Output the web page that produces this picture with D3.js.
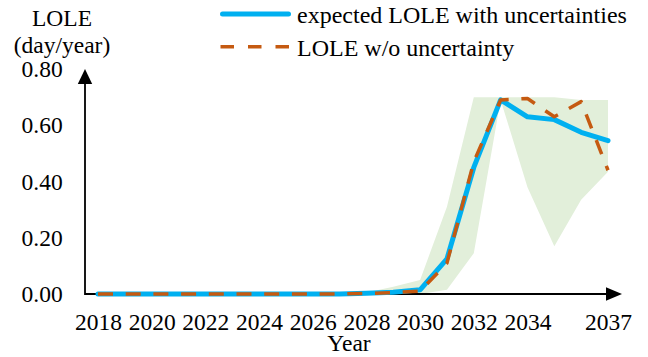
<!DOCTYPE html>
<html>
<head>
<meta charset="utf-8">
<script src="https://cdn.jsdelivr.net/npm/d3@7"></script>
<style>
  html, body { margin: 0; padding: 0; background: #fff; }
  svg { display: block; }
  svg text { font-family: 'Liberation Serif', 'Times New Roman', serif !important; fill: #000; }
</style>
</head>
<body>
<svg id="chart" width="648" height="357"></svg>
<script>
// Study years
const years = d3.range(2018, 2038);

// Expected LOLE with uncertainties (day/year)
const expectedLOLE = [0, 0, 0, 0, 0, 0, 0, 0, 0, 0,
                      0.003, 0.006, 0.015, 0.125, 0.45, 0.69, 0.63, 0.62, 0.575, 0.545];

// LOLE without uncertainty (day/year)
const nominalLOLE = [0, 0, 0, 0, 0, 0, 0, 0, 0, 0,
                     0.002, 0.005, 0.01, 0.11, 0.47, 0.69, 0.695, 0.63, 0.684, 0.44];

// Uncertainty range bounds (day/year)
const rangeUpper = [0, 0, 0, 0, 0, 0, 0, 0, 0, 0,
                    0.005, 0.026, 0.05, 0.31, 0.70, 0.70, 0.70, 0.70, 0.69, 0.69];
const rangeLower = [0, 0, 0, 0, 0, 0, 0, 0, 0, 0,
                    0, 0, 0, 0.015, 0.145, 0.69, 0.38, 0.17, 0.335, 0.435];

// Axis tick labels
const xTickYears = [2018, 2020, 2022, 2024, 2026, 2028, 2030, 2032, 2034, 2037];
const yTickValues = [0, 0.2, 0.4, 0.6, 0.8];

// Legend entries
const legendLabels = ["expected LOLE with uncertainties", "LOLE w/o uncertainty"];

const SERIF = "'Liberation Serif', 'Times New Roman', serif";
const FONT = 23.5;

const svg = d3.select("#chart");

const x = d3.scaleLinear().domain([2018, 2037]).range([98, 608]);
const y = d3.scaleLinear().domain([0, 0.8]).range([294, 69]);
const axisX = 85;

const rows = years.map((yr, i) => ({
  year: yr, expected: expectedLOLE[i], nominal: nominalLOLE[i],
  upper: rangeUpper[i], lower: rangeLower[i]
}));

// Uncertainty band
svg.append("path")
  .datum(rows)
  .attr("fill", "#E2EFDA")
  .attr("d", d3.area()
    .x(d => x(d.year))
    .y0(d => y(d.lower))
    .y1(d => y(d.upper)));

// Axis lines with arrow heads
const axisG = svg.append("g");
axisG.append("path")
  .attr("d", `M${axisX},${y(0.8) + 10}V${y(0)}H${612}`)
  .attr("fill", "none").attr("stroke", "#000").attr("stroke-width", 1.8);
axisG.append("path")
  .attr("d", `M${axisX},${y(0.8)} L${axisX - 7.2},${y(0.8) + 15} L${axisX + 7.2},${y(0.8) + 15} Z`)
  .attr("fill", "#000");
axisG.append("path")
  .attr("d", `M622,${y(0)} L606,${y(0) - 6.8} L606,${y(0) + 6.8} Z`)
  .attr("fill", "#000");

// Expected LOLE line
svg.append("path")
  .datum(rows)
  .attr("fill", "none")
  .attr("stroke", "#00B0F0")
  .attr("stroke-width", 5)
  .attr("stroke-linejoin", "round")
  .attr("stroke-linecap", "round")
  .attr("d", d3.line().x(d => x(d.year)).y(d => y(d.expected)));

// LOLE without uncertainty (dashed)
svg.append("path")
  .datum(rows)
  .attr("fill", "none")
  .attr("stroke", "#C55A11")
  .attr("stroke-width", 3.5)
  .attr("stroke-dasharray", "15,12.7")
  .attr("stroke-linejoin", "round")
  .attr("d", d3.line().x(d => x(d.year)).y(d => y(d.nominal)));

// X tick labels
const xAxis = svg.append("g")
  .attr("transform", `translate(0,${y(0)})`)
  .call(d3.axisBottom(x).tickValues(xTickYears).tickSize(0).tickPadding(19.3).tickFormat(d3.format("d")));
xAxis.attr("font-family", null).attr("font-size", null);
xAxis.select(".domain").remove();
xAxis.selectAll("text")
  .style("font-family", SERIF)
  .style("font-size", FONT + "px");

// Y tick labels
const yAxis = svg.append("g")
  .attr("transform", `translate(${axisX},0)`)
  .call(d3.axisLeft(y).tickValues(yTickValues).tickSize(0).tickPadding(22.3).tickFormat(d3.format(".2f")));
yAxis.attr("font-family", null).attr("font-size", null);
yAxis.select(".domain").remove();
yAxis.selectAll("text")
  .style("font-family", SERIF)
  .style("font-size", FONT + "px");

// Axis titles
const title = (tx, ty, str) => svg.append("text")
  .attr("x", tx).attr("y", ty).attr("text-anchor", "middle")
  .style("font-family", SERIF).style("font-size", FONT + "px").text(str);
title(62, 26, "LOLE");
title(62, 53, "(day/year)");
title(349, 351, "Year");

// Legend
const legend = svg.append("g");
legend.append("line")
  .attr("x1", 222.5).attr("x2", 288.5).attr("y1", 14).attr("y2", 14)
  .attr("stroke", "#00B0F0").attr("stroke-width", 5).attr("stroke-linecap", "round");
legend.append("line")
  .attr("x1", 220.5).attr("x2", 290).attr("y1", 46.7).attr("y2", 46.7)
  .attr("stroke", "#C55A11").attr("stroke-width", 3.5).attr("stroke-dasharray", "13.5,14");
legend.selectAll("text.lg")
  .data(legendLabels)
  .join("text")
  .attr("class", "lg")
  .attr("x", 297)
  .attr("y", (d, i) => [23, 55.5][i])
  .style("font-family", SERIF)
  .style("font-size", "24px")
  .text(d => d);
</script>
</body>
</html>
